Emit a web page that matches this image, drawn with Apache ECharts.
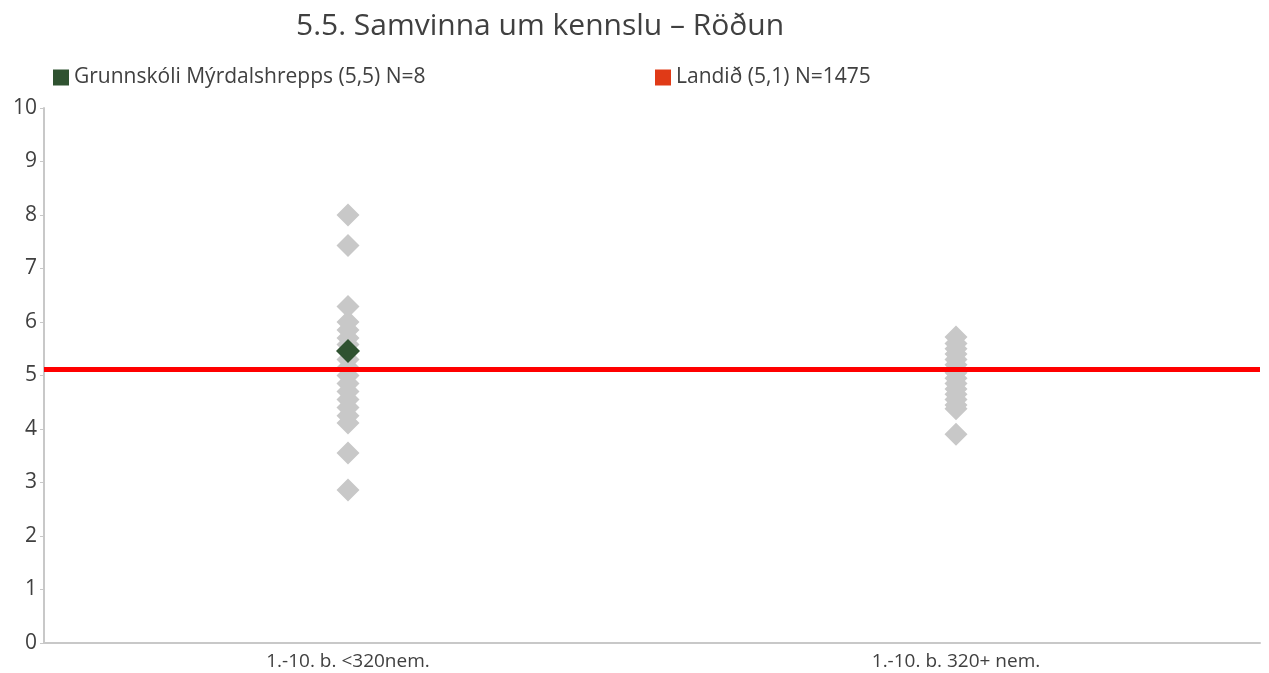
<!DOCTYPE html>
<html>
<head>
<meta charset="utf-8">
<script src="https://cdn.jsdelivr.net/npm/echarts@6/dist/echarts.min.js"></script>
<style>
  html, body { margin: 0; padding: 0; background: #ffffff; }
  #chart { width: 1269px; height: 673px; }
</style>
</head>
<body>
<div id="chart"></div>
<script>
// Categories on the x axis
const categories = ['1.-10. b. <320nem.', '1.-10. b. 320+ nem.'];
// Y axis tick labels
const yTicks = [0, 1, 2, 3, 4, 5, 6, 7, 8, 9, 10];

// School averages in each size group (grey diamonds)
const smallSchools = [8.0, 7.43, 6.29, 6.0, 5.85, 5.7, 5.58, 5.3, 5.15, 5.0, 4.85, 4.7, 4.55, 4.4, 4.25, 4.11, 3.55, 2.86];
const largeSchools = [5.72, 5.6, 5.5, 5.4, 5.3, 5.2, 5.12, 5.05, 4.95, 4.85, 4.75, 4.65, 4.55, 4.45, 4.38, 3.9];

// Highlighted school and national average
const schoolName = 'Grunnskóli Mýrdalshrepps (5,5) N=8';
const schoolValue = 5.46;
const nationalName = 'Landið (5,1) N=1475';
const nationalValue = 5.12;

const textColor = '#404040';
const fontFamily = '"Open Sans", Lato, sans-serif';

const greyPoints = []
  .concat(smallSchools.map(v => [0, v]))
  .concat(largeSchools.map(v => [1, v]));

const chart = echarts.init(document.getElementById('chart'), null, { renderer: 'canvas' });

chart.setOption({
  animation: false,
  backgroundColor: '#ffffff',
  textStyle: { fontFamily: fontFamily },
  title: {
    text: '5.5. Samvinna um kennslu – Röðun',
    left: 291,
    top: 6,
    textStyle: { fontSize: 30, fontWeight: 'normal', color: textColor, fontFamily: fontFamily }
  },
  legend: [
    {
      left: 48, top: 62,
      itemWidth: 16, itemHeight: 16, icon: 'rect',
      textStyle: { fontSize: 21, color: textColor, fontFamily: fontFamily, padding: [0, 0, 0, 0] },
      data: [{ name: schoolName, itemStyle: { color: '#2f5230', opacity: 1 } }]
    },
    {
      left: 650, top: 62,
      itemWidth: 16, itemHeight: 16, icon: 'rect',
      textStyle: { fontSize: 21, color: textColor, fontFamily: fontFamily, padding: [0, 0, 0, 0] },
      data: [{ name: nationalName, itemStyle: { color: '#e03a17', opacity: 1 } }]
    }
  ],
  grid: { left: 44, right: 9, top: 108, bottom: 30, containLabel: false },
  xAxis: {
    type: 'category',
    data: categories,
    boundaryGap: true,
    axisLine: { lineStyle: { color: '#c8c8c8', width: 2 } },
    axisTick: { show: false },
    axisLabel: { fontSize: 19, color: textColor, margin: 9, fontFamily: fontFamily }
  },
  yAxis: {
    type: 'value',
    min: yTicks[0],
    max: yTicks[yTicks.length - 1],
    interval: 1,
    axisLine: { show: true, lineStyle: { color: '#c8c8c8', width: 2 } },
    axisTick: { show: true, length: 4, lineStyle: { color: '#c8c8c8', width: 1 } },
    splitLine: { show: false },
    axisLabel: { fontSize: 21, color: textColor, margin: 7, fontFamily: fontFamily }
  },
  series: [
    {
      name: nationalName,
      type: 'scatter',
      data: [],
      z: 1,
      itemStyle: { color: '#e03a17', opacity: 1 },
      markLine: {
        silent: true,
        symbol: 'none',
        label: { show: false },
        lineStyle: { color: '#ff0000', width: 5, type: 'solid', opacity: 1 },
        data: [{ yAxis: nationalValue }]
      }
    },
    {
      name: 'schools',
      type: 'scatter',
      symbol: 'diamond',
      symbolSize: 23,
      z: 2,
      itemStyle: { color: '#c8c8c8', opacity: 1 },
      data: greyPoints
    },
    {
      name: schoolName,
      type: 'scatter',
      symbol: 'diamond',
      symbolSize: 24,
      z: 3,
      itemStyle: { color: '#2f5230', opacity: 1 },
      data: [[0, schoolValue]]
    }
  ]
});
</script>
</body>
</html>
